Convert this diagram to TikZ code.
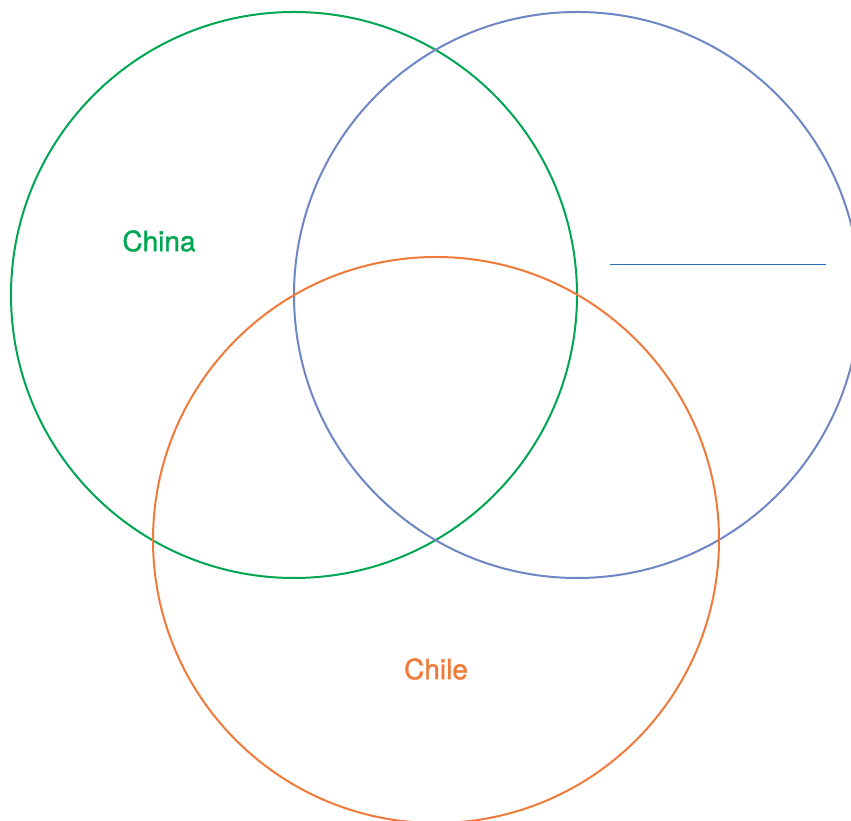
\documentclass[tikz,border=0pt]{standalone}
\usepackage{fontspec}
\setmainfont{TeX Gyre Heros}
\newfontfamily\lblfont[FakeBold=1.2]{TeX Gyre Heros}
\definecolor{cgreen}{RGB}{0,166,81}
\definecolor{cblue}{RGB}{111,134,196}
\definecolor{corange}{RGB}{240,122,58}
\definecolor{cline}{RGB}{42,110,187}
\begin{document}
\begin{tikzpicture}[x=1pt,y=1pt,
  ring/.style={line width=2pt},
  lbl/.style={font=\lblfont\fontsize{28}{30}\selectfont, inner sep=0pt}]
\useasboundingbox (0,0) rectangle (851,821);
\clip (0,0) rectangle (851,821);
\fill[white] (0,0) rectangle (851,821);
\draw[ring, cgreen] (294,526) circle (283);
\draw[ring, cblue] (577,526) circle (283);
\draw[ring, corange] (436,281) circle (283);
\coordinate (l1) at (610,556);
\coordinate (l2) at (826,556);
\draw[cline, line width=1pt] (l1) -- (l2);
\node[lbl, text=cgreen] (china) at (159,580) {China};
\node[lbl, text=corange] (chile) at (436,152) {Chile};
\end{tikzpicture}
\end{document}
